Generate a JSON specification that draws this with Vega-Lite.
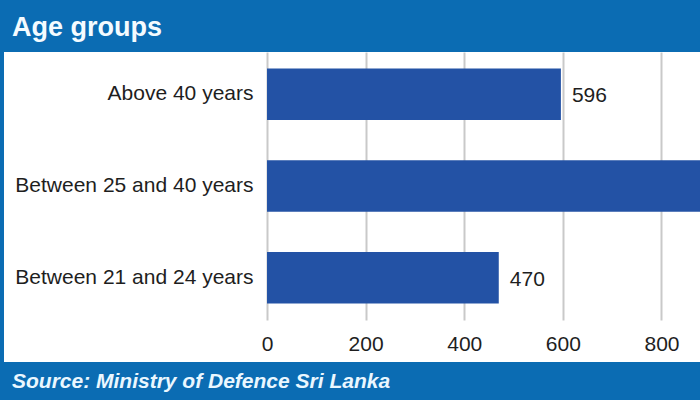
{
  "$schema": "https://vega.github.io/schema/vega-lite/v6.json",
  "background": "#0b6cb3",
  "padding": {"left": 4, "top": 0, "right": 0, "bottom": 0},
  "spacing": 0,
  "config": {
    "view": {"stroke": null},
    "font": "Liberation Sans",
    "concat": {"spacing": 0}
  },
  "vconcat": [
    {
      "width": 696,
      "height": 52,
      "data": {"values": [{"label": "Age groups"}]},
      "mark": {
        "type": "text",
        "align": "left",
        "baseline": "alphabetic",
        "dx": 8,
        "dy": 10,
        "fontSize": 27,
        "fontWeight": "bold",
        "color": "#f4fbff"
      },
      "encoding": {
        "x": {"datum": 0, "type": "quantitative", "scale": {"domain": [0, 1]}, "axis": null},
        "text": {"field": "label"}
      }
    },
    {
      "width": 696,
      "height": 310,
      "view": {"fill": "white"},
      "data": {
        "values": [
          {"group": "Above 40 years", "count": 596},
          {"group": "Between 25 and 40 years", "count": 1100},
          {"group": "Between 21 and 24 years", "count": 470}
        ]
      },
      "encoding": {
        "y": {
          "field": "group",
          "type": "nominal",
          "sort": ["Above 40 years", "Between 25 and 40 years", "Between 21 and 24 years"],
          "scale": {"range": [0, 268], "paddingInner": 0.44, "paddingOuter": 0.18},
          "axis": {
            "title": null,
            "ticks": false,
            "domain": false,
            "offset": -249,
            "labelPadding": 0,
            "labelFontSize": 21,
            "labelColor": "#1e1e1e",
            "labelLimit": 0
          }
        },
        "x": {
          "field": "count",
          "type": "quantitative",
          "scale": {"domain": [-533.4, 878.1], "nice": false, "zero": false},
          "axis": {
            "orient": "top",
            "values": [0, 200, 400, 600, 800],
            "title": null,
            "ticks": false,
            "domain": false,
            "grid": true,
            "gridColor": "#c9c9c9",
            "gridWidth": 2,
            "labelFontSize": 21,
            "labelColor": "#1e1e1e",
            "labelBaseline": "middle",
            "labelPadding": -292.5,
            "labelFlush": false
          }
        }
      },
      "layer": [
        {
          "mark": {"type": "bar", "color": "#2352a5", "clip": true},
          "encoding": {"x2": {"datum": 0}}
        },
        {
          "mark": {
            "type": "text",
            "align": "left",
            "baseline": "middle",
            "dx": 11,
            "dy": 2,
            "fontSize": 21,
            "color": "#1e1e1e",
            "clip": true
          },
          "encoding": {"text": {"field": "count", "type": "quantitative"}}
        }
      ]
    },
    {
      "width": 696,
      "height": 38,
      "data": {"values": [{"label": "Source: Ministry of Defence Sri Lanka"}]},
      "mark": {
        "type": "text",
        "align": "left",
        "baseline": "alphabetic",
        "dx": 8,
        "dy": 7,
        "fontSize": 21,
        "fontWeight": "bold",
        "fontStyle": "italic",
        "color": "#eaf7ff"
      },
      "encoding": {
        "x": {"datum": 0, "type": "quantitative", "scale": {"domain": [0, 1]}, "axis": null},
        "text": {"field": "label"}
      }
    }
  ]
}
